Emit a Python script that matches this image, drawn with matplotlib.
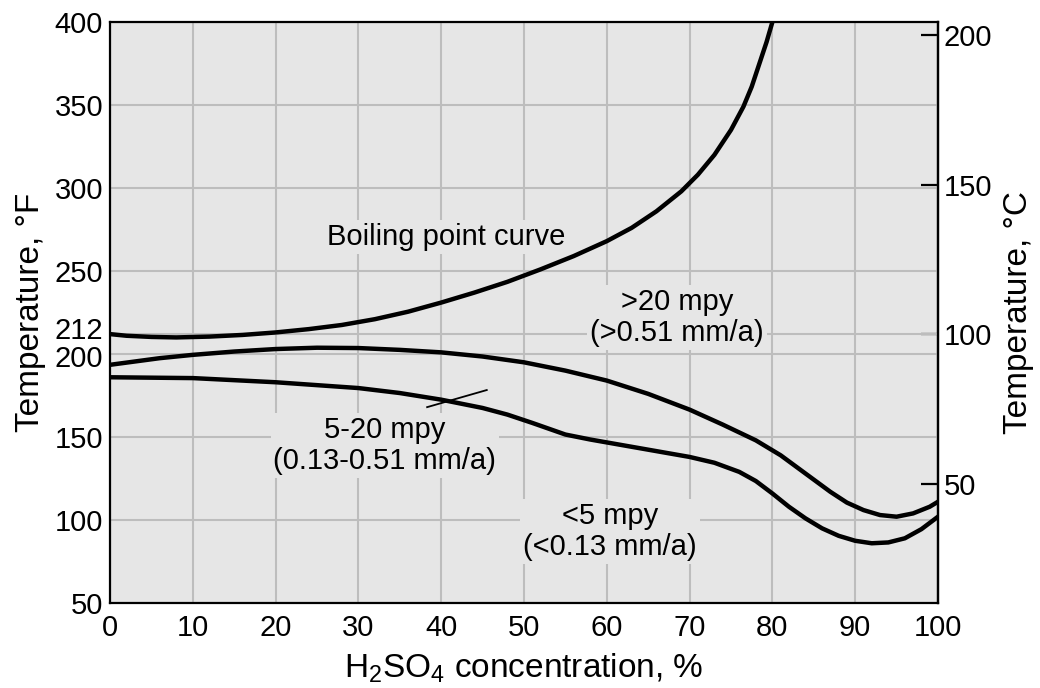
import matplotlib.pyplot as plt
import matplotlib.transforms as mtransforms

plt.rcParams['font.family'] = ['Liberation Sans', 'DejaVu Sans']
plt.rcParams['mathtext.default'] = 'regular'

# concentration (%) vs temperature (F)
boil_x = [0, 2, 5, 8, 12, 16, 20, 24, 28, 32, 36, 40, 44, 48, 52, 56, 60, 63, 66, 69,
          71, 73, 75, 76.5, 77.5, 78.5, 79.3, 80]
boil_y = [212, 211, 210.3, 210, 210.5, 211.5, 213, 215, 217.5, 221, 225.5, 231, 237, 243.5,
          251, 259, 268, 276, 286, 298, 308, 320, 335, 349, 361, 376, 388, 400]

mid_x = [0, 3, 6, 10, 15, 20, 25, 30, 35, 40, 45, 50, 55, 60, 65, 70, 74, 78, 81, 84,
         87, 89, 91, 93, 95, 97, 99, 100]
mid_y = [193.5, 195.5, 197.5, 199.5, 201.5, 203, 203.8, 203.6, 202.5, 201, 198.5, 195, 190,
         184, 176, 166.5, 157.5, 148, 139, 128, 117, 110.5, 106, 103, 102, 104, 108, 111]

low_x = [0, 10, 20, 30, 35, 40, 45, 48, 51, 53, 55, 58, 62, 66, 70, 73, 76, 78, 80, 82,
         84, 86, 88, 90, 92, 94, 96, 98, 100]
low_y = [186, 185.5, 183, 179.5, 176.5, 172.5, 167.5, 163.5, 158.5, 155, 151.5, 148.5, 145,
         141.5, 138, 134.5, 129, 123.5, 116, 108, 101, 95, 90.5, 87.5, 86, 86.5, 89, 94.5, 102]

x_ticks = list(range(0, 101, 10))
f_ticks = [50, 100, 150, 200, 212, 250, 300, 350, 400]
c_ticks = [50, 100, 150, 200]

fig = plt.figure(figsize=(10.4, 6.88), dpi=100)
ax = fig.add_axes([0.1058, 0.1235, 0.7961, 0.8445])
ax.set_facecolor('#e6e6e6')

for y in f_ticks:
    ax.axhline(y, color='#bdbdbd', lw=1.5, zorder=1)
for x in x_ticks:
    ax.axvline(x, color='#bdbdbd', lw=1.5, zorder=1)

for xs, ys in [(boil_x, boil_y), (mid_x, mid_y), (low_x, low_y)]:
    ax.plot(xs, ys, color='black', lw=3.2, zorder=3, solid_joinstyle='round')

# pointer for the 5-20 mpy band
ax.plot([38.3, 45.5], [168, 178.3], color='black', lw=1.3, zorder=3)

# label boxes hide the grid but sit under the curves
box = dict(facecolor='#e6e6e6', edgecolor='none', pad=2)
fs = 21
ax.text(40.6, 270.5, 'Boiling point curve', ha='center', va='center', fontsize=fs, bbox=box, zorder=2)
ax.text(68.5, 222, '>20 mpy\n(>0.51 mm/a)', ha='center', va='center', fontsize=fs,
        linespacing=1.15, bbox=box, zorder=2)
ax.text(33.2, 145, '5-20 mpy\n(0.13-0.51 mm/a)', ha='center', va='center', fontsize=fs,
        linespacing=1.15, bbox=box, zorder=2)
ax.text(60.4, 93, '<5 mpy\n(<0.13 mm/a)', ha='center', va='center', fontsize=fs,
        linespacing=1.15, bbox=box, zorder=2)

ax.set_xlim(0, 100)
ax.set_ylim(50, 400)
ax.set_xticks(x_ticks)
ax.set_yticks(f_ticks)
ax.tick_params(length=0, labelsize=21)
ax.tick_params(axis='x', pad=8)
ax.tick_params(axis='y', pad=5)
for s in ax.spines.values():
    s.set_linewidth(1.6)
    s.set_zorder(5)

# nudge the crowded 212 / 200 labels apart
for lab in ax.get_yticklabels():
    if lab.get_text() == '212':
        lab.set_transform(lab.get_transform() + mtransforms.ScaledTranslation(0, 6 / 100, fig.dpi_scale_trans))
    elif lab.get_text() == '200':
        lab.set_transform(lab.get_transform() + mtransforms.ScaledTranslation(0, -2 / 100, fig.dpi_scale_trans))

ax.set_xlabel('H$_2$SO$_4$ concentration, %', fontsize=24, labelpad=7)
ax.set_ylabel('Temperature, °F', fontsize=24, labelpad=6)

sec = ax.secondary_yaxis('right', functions=(lambda f: (f - 32) * 5 / 9, lambda c: c * 9 / 5 + 32))
sec.set_yticks(c_ticks)
sec.tick_params(direction='in', length=12, width=1.6, labelsize=21, pad=4)
sec.spines['right'].set_linewidth(1.6)
sec.set_ylabel('Temperature, °C', fontsize=24, labelpad=8)

fig.savefig('out.png', dpi=100)
